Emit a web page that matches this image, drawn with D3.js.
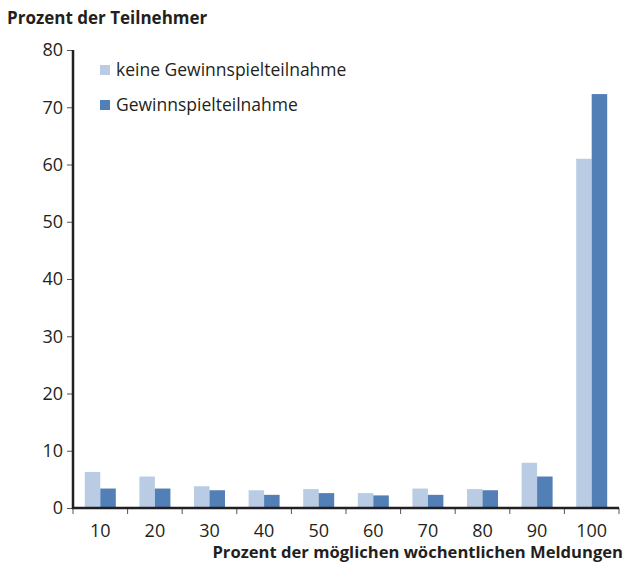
<!DOCTYPE html>
<html>
<head>
<meta charset="utf-8">
<script src="https://cdn.jsdelivr.net/npm/d3@7"></script>
<style>
  body { margin: 0; background: #fff; }
  text { font-family: "Open Sans", "DejaVu Sans", sans-serif; fill: #231f20; }
</style>
</head>
<body>
<svg width="626" height="566"></svg>
<script>
const categories = ["10", "20", "30", "40", "50", "60", "70", "80", "90", "100"];
const seriesNames = ["keine Gewinnspielteilnahme", "Gewinnspielteilnahme"];
const keineValues = [6.3, 5.5, 3.8, 3.1, 3.3, 2.6, 3.4, 3.3, 7.9, 61.0];
const gewinnValues = [3.4, 3.4, 3.1, 2.3, 2.6, 2.2, 2.3, 3.1, 5.5, 72.3];
const yTicks = [0, 10, 20, 30, 40, 50, 60, 70, 80];
const colors = ["#b9cce4", "#527fb5"];

const svg = d3.select("svg");
const margin = { left: 73, right: 7, top: 50, bottom: 58 };
const width = +svg.attr("width");
const height = +svg.attr("height");

const x = d3.scaleBand()
	.domain(categories)
	.range([margin.left, width - margin.right]);

const y = d3.scaleLinear()
	.domain([0, 80])
	.range([height - margin.bottom, margin.top]);

const barW = 15.5;

const rows = categories.map((c, i) => ({ cat: c, values: [keineValues[i], gewinnValues[i]] }));

// bars
const groups = svg.append("g")
	.selectAll("g")
	.data(rows)
	.enter()
	.append("g")
	.attr("transform", d => `translate(${x(d.cat) + x.bandwidth() / 2 - barW},0)`);

groups.selectAll("rect")
	.data(d => d.values)
	.enter()
	.append("rect")
	.attr("x", (d, i) => i * barW)
	.attr("y", d => y(d))
	.attr("width", barW)
	.attr("height", d => y(0) - y(d))
	.attr("fill", (d, i) => colors[i]);

// y axis
const yAxis = svg.append("g")
	.attr("transform", `translate(${margin.left},0)`)
	.call(d3.axisLeft(y).tickValues(yTicks).tickSize(6).tickPadding(4));
yAxis.select(".domain").remove();
yAxis.selectAll(".tick line").attr("stroke", "#555").attr("stroke-width", 1);
yAxis.selectAll(".tick text").style("font-size", "18px").attr("fill", "#231f20");

svg.append("line")
	.attr("x1", margin.left).attr("x2", margin.left)
	.attr("y1", y(80)).attr("y2", y(0) + 1)
	.attr("stroke", "#231f20").attr("stroke-width", 2.5);

// x axis
const xAxis = svg.append("g")
	.attr("transform", `translate(0,${y(0)})`)
	.call(d3.axisBottom(x).tickSize(0).tickPadding(16));
xAxis.select(".domain").remove();
xAxis.selectAll(".tick text").style("font-size", "18px").attr("fill", "#231f20");

// x ticks at band boundaries
const bounds = categories.map(c => x(c)).concat([x(categories[categories.length - 1]) + x.bandwidth()]);
svg.append("g")
	.selectAll("line")
	.data(bounds)
	.enter()
	.append("line")
	.attr("x1", d => d).attr("x2", d => d)
	.attr("y1", y(0)).attr("y2", y(0) + 6)
	.attr("stroke", "#555").attr("stroke-width", 1);

svg.append("line")
	.attr("x1", margin.left - 1).attr("x2", width - margin.right)
	.attr("y1", y(0)).attr("y2", y(0))
	.attr("stroke", "#231f20").attr("stroke-width", 2.5);

// titles
svg.append("text")
	.attr("x", 7).attr("y", 24)
	.style("font-size", "17px").style("font-weight", "bold")
	.text("Prozent der Teilnehmer");

svg.append("text")
	.attr("x", 623).attr("y", 558)
	.attr("text-anchor", "end")
	.style("font-size", "16.6px").style("font-weight", "bold")
	.text("Prozent der möglichen wöchentlichen Meldungen");

// legend
const legend = svg.append("g")
	.selectAll("g")
	.data(seriesNames)
	.enter()
	.append("g")
	.attr("transform", (d, i) => `translate(100,${65 + i * 35})`);

legend.append("rect")
	.attr("width", 10).attr("height", 10)
	.attr("fill", (d, i) => colors[i]);

legend.append("text")
	.attr("x", 16).attr("y", 11)
	.style("font-size", "17.5px")
	.text(d => d);
</script>
</body>
</html>
